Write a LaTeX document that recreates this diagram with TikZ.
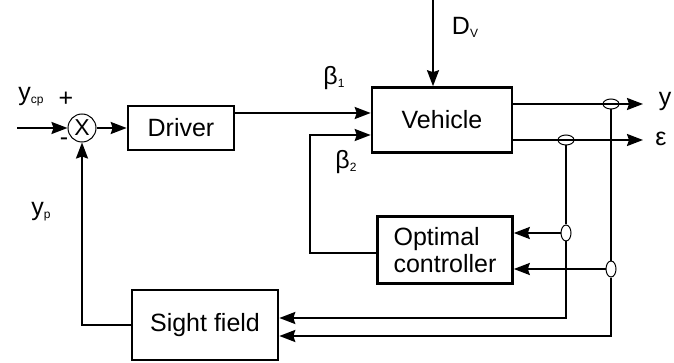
\documentclass[tikz,border=0pt]{standalone}
\usepackage{fontspec}
\setmainfont{Liberation Sans}
\usetikzlibrary{
  arrows.meta,
  shapes.geometric,
  positioning,
  calc
}
\newcommand{\lsub}[1]{\raisebox{-3pt}{\fontsize{12}{13}\selectfont #1}}
\tikzset{
  blk/.style={
    draw, line width=2.6pt, inner sep=2pt, align=center,
    font=\fontsize{25}{27}\selectfont
  },
  sumnode/.style={draw, circle, line width=1pt, minimum size=28pt, inner sep=0pt,
    font=\fontsize{23}{24}\selectfont},
  sig/.style={-{Stealth[length=16pt, width=12pt, inset=2pt]}, line width=2pt},
  wire/.style={line width=2pt},
  tap/.style={draw, ellipse, line width=1pt, inner sep=0pt,
    minimum width=16pt, minimum height=10pt},
  vtap/.style={tap, minimum width=10pt, minimum height=16pt},
  lbl/.style={font=\fontsize{25}{27}\selectfont, inner sep=0pt}
}

\begin{document}
\begin{tikzpicture}[x=1pt, y=-1pt]
  \useasboundingbox (0,0) rectangle (674,363);
  % blocks
  \node[sumnode] (sum) at (82,128) {X};
  \node[blk, minimum width=106pt, minimum height=44pt] (driver) at (181,128) {Driver};
  \node[blk, minimum width=140pt, minimum height=65pt] (vehicle) at (442,120) {Vehicle};
  \node[blk, minimum width=135pt, minimum height=67pt, align=left] (optimal) at (445,250) {Optimal\\controller};
  \node[blk, minimum width=146pt, minimum height=70pt] (sight) at (205,325) {Sight field};
  % free ends
  \coordinate (ycp) at (17,128);
  \coordinate (dv) at (433,0);
  \coordinate (yout) at (643,104);
  \coordinate (eout) at (643,140);
  % taps
  \node[tap] (tapy) at (611,104) {};
  \node[tap] (tape) at (566,140) {};
  \node[vtap] (tapo1) at (566,233) {};
  \node[vtap] (tapo2) at (611,269) {};
  % forward path
  \draw[sig] (ycp) -- (sum.west);
  \draw[sig] (sum.east) -- (driver.west);
  \draw[sig] ([yshift=15pt]driver.east) -- ([yshift=15pt]driver.east -| vehicle.west);
  \draw[sig] (dv) -- (dv |- vehicle.north);
  \draw[sig] ([yshift=-3pt]optimal.west) -- ++(-66,0) |- ([yshift=-15pt]vehicle.west);
  \draw[sig] ([yshift=16pt]vehicle.east) -- (yout);
  \draw[sig] ([yshift=-20pt]vehicle.east) -- (eout);
  % feedback
  \draw[wire] (tapy.south) -- (tapo2.north);
  \draw[wire] (tape.south) -- (tapo1.north);
  \draw[sig] (tapo1.west) -- (tapo1.west -| optimal.east);
  \draw[sig] (tapo2.west) -- (tapo2.west -| optimal.east);
  \draw[sig] (tapo1.south) |- ([yshift=7pt]sight.east);
  \draw[sig] (tapo2.south) |- ([yshift=-11pt]sight.east);
  \draw[sig] (sight.west) -| (sum.south);
  % labels
  \node[lbl] (lycp) at (31,97) {y\lsub{cp}};
  \node[lbl] (lplus) at (66,99) {+};
  \node[lbl] (lminus) at (64,142) {-};
  \node[lbl] (lb1) at (334,78) {β\lsub{1}};
  \node[lbl] (lb2) at (346,162) {β\lsub{2}};
  \node[lbl] (ldv) at (465,27) {D\lsub{V}};
  \node[lbl] (ly) at (665,101) {y};
  \node[lbl] (leps) at (661,139) {ε};
  \node[lbl] (lyp) at (41,212) {y\lsub{p}};
\end{tikzpicture}
\end{document}
